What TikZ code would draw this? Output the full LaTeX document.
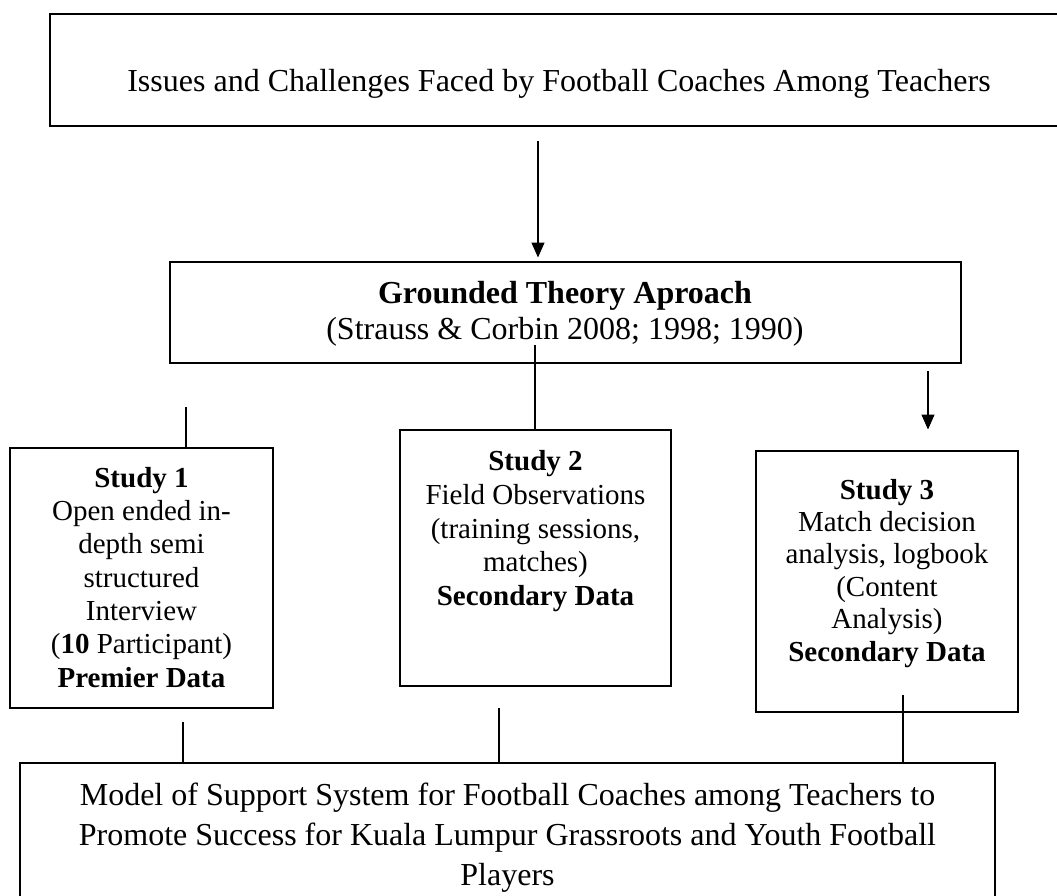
\documentclass[tikz,border=0pt]{standalone}
\usepackage{fontspec}
\setmainfont{Liberation Serif}
\usetikzlibrary{arrows.meta}
\begin{document}
\begin{tikzpicture}[x=1pt,y=-1pt,
  boxshape/.style={draw, line width=1.8pt, inner sep=0pt, outer sep=0pt, anchor=north west},
  bigtxt/.style={inner sep=0pt, anchor=north, align=center, font=\fontsize{32}{40}\selectfont},
  gttxt/.style={inner sep=0pt, anchor=north, align=center, font=\fontsize{32}{36.5}\selectfont},
  studytxt/.style={inner sep=0pt, anchor=north, align=center},
  ln/.style={line width=1.2pt},
  arr/.style={line width=1.2pt, -{Triangle[width=13pt,length=15pt]}}]
\useasboundingbox (0,0) rectangle (1057,895);
% boxes
\node[boxshape, minimum width=1018pt, minimum height=112pt] (top) at (50,14) {};
\node[boxshape, minimum width=791pt, minimum height=101pt] (gt) at (170,262) {};
\node[boxshape, minimum width=263pt, minimum height=260pt] (s1) at (10,448) {};
\node[boxshape, minimum width=271pt, minimum height=256pt] (s2) at (400,430) {};
\node[boxshape, minimum width=262pt, minimum height=261pt] (s3) at (756,451) {};
\node[boxshape, minimum width=975pt, minimum height=150pt] (bot) at (20,763) {};
% texts
\node[bigtxt] (toptxt) at (559,69) {Issues and Challenges Faced by Football Coaches Among Teachers};
\node[gttxt] (gttext) at (565,281) {\textbf{Grounded Theory Aproach}\\(Strauss \& Corbin 2008; 1998; 1990)};
\node[studytxt, font=\fontsize{29}{33.3}\selectfont] (s1txt) at (141.5,467) {\textbf{Study 1}\\Open ended in-\\depth semi\\structured\\Interview\\(\textbf{10} Participant)\\\textbf{Premier Data}};
\node[studytxt, font=\fontsize{29}{33.6}\selectfont] (s2txt) at (535.5,450.5) {\textbf{Study 2}\\Field Observations\\(training sessions,\\matches)\\\textbf{Secondary Data}};
\node[studytxt, font=\fontsize{29}{32.4}\selectfont] (s3txt) at (887,478.7) {\textbf{Study 3}\\Match decision\\analysis, logbook\\(Content\\Analysis)\\\textbf{Secondary Data}};
\node[bigtxt] (bottxt) at (507.5,783) {Model of Support System for Football Coaches among Teachers to\\Promote Success for Kuala Lumpur Grassroots and Youth Football\\Players};
% connectors
\coordinate (a1) at (538,141);
\draw[arr, shorten >=4.5pt] (a1) -- (a1 |- gt.north);
\coordinate (m1) at (535,345);
\draw[ln] (m1) -- (m1 |- s2.north);
\coordinate (l1) at (186,407);
\draw[ln] (l1) -- (l1 |- s1.north);
\coordinate (a3) at (928,371);
\draw[arr, shorten >=21.5pt] (a3) -- (a3 |- s3.north);
\coordinate (b1) at (183,722);
\draw[ln] (b1) -- (b1 |- bot.north);
\coordinate (b2) at (499,708);
\draw[ln] (b2) -- (b2 |- bot.north);
\coordinate (b3) at (903,695);
\draw[ln] (b3) -- (b3 |- bot.north);
\end{tikzpicture}
\end{document}
